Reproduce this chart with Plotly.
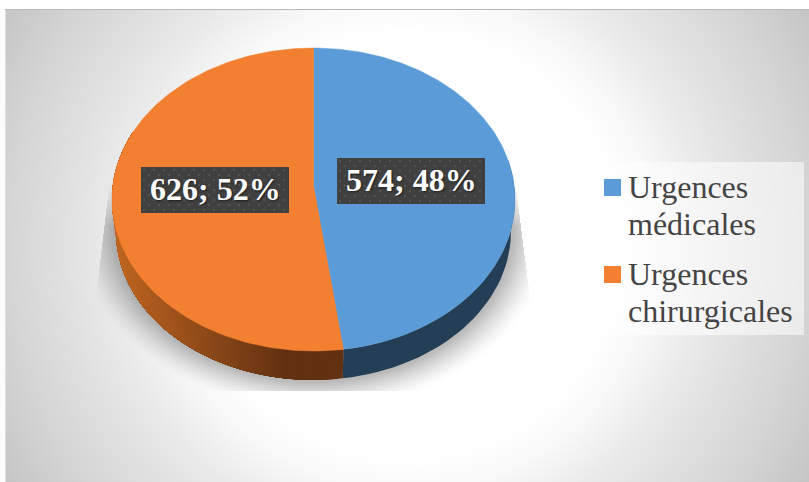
import numpy as np
import plotly.graph_objects as go

# Chart data
categories = ["Urgences médicales", "Urgences chirurgicales"]
counts = [574, 626]
top_colors = ["#5B9BD7", "#F38031"]

W, H = 809, 482

# Projected disc: circle (u, v) -> screen, with a mild perspective term
CX, HUB_Y = 313.5, 186.0
TOP = dict(b=200.7, a=150.3, y0=HUB_Y)
BOTTOM = dict(b=196.7, a=147.3, y0=218.3)
K = -0.0891


def rim(theta_deg, disc):
    t = np.radians(theta_deg)
    u, v = np.sin(t), -np.cos(t)
    d = 1 + K * v
    return CX + disc["b"] * u / d, disc["y0"] + disc["a"] * v / d


def mix(c0, c1, f):
    return "rgb(%d,%d,%d)" % tuple(round(a + (b - a) * f) for a, b in zip(c0, c1))


# Page background: white frame, radial grey gradient, soft shadow, legend panel
yy, xx = np.mgrid[0:H, 0:W] + 0.5
dist = np.hypot(xx - 407, yy - 245)
bg = np.interp(dist, [0, 215, 247, 300, 405, 466], [255, 255, 249, 234, 212, 198])

ell = np.hypot((xx - CX) / 200.0, (yy - 229.0) / 153.0)
out_px = (ell - 1) * 165
shade = np.clip(1 - out_px / 30, 0, 1) ** 1.4 * 0.27
shade *= np.clip((yy - 182) / 45, 0, 1)
left_edge = 110 + (np.clip(yy, 180, 300) - 180) * (-12 / 100)
right_edge = 515 + (np.clip(yy, 180, 300) - 180) * (14 / 110)
shade[(xx < left_edge) | (xx > right_edge) | (yy > 391)] = 0
bg = bg * (1 - shade)

panel = (xx >= 590) & (xx < 804) & (yy >= 162) & (yy < 335)
bg[panel] += (255 - bg[panel]) * 0.55

bg[:, 5:6] = 222
bg[9:10, 5:] = 186
bg[:, :5] = 252
bg[:9, :] = 255

fig = go.Figure()
fig.add_trace(go.Heatmap(
    z=bg.astype(np.uint8), x=np.arange(W) + 0.5, y=np.arange(H) + 0.5,
    colorscale=[[0, "#000000"], [1, "#ffffff"]], zmin=0, zmax=255,
    showscale=False, hoverinfo="skip",
))

# Slice boundaries, clockwise from twelve o'clock
total = sum(counts)
split = counts[0] / total * 360


def add_wall_strip(t0, t1, color):
    ts = np.linspace(t0, t1, 40)
    xa, ya = rim(ts, TOP)
    xb, yb = rim(ts[::-1], BOTTOM)
    fig.add_trace(go.Scatter(
        x=np.r_[xa, xb], y=np.r_[ya, yb], mode="lines", fill="toself",
        fillcolor=color, line=dict(width=0),
        hoverinfo="skip", showlegend=False,
    ))


# Side wall of the disc; each strip runs on under the next to hide the joins
add_wall_strip(80, split, "#233E55")
edges = np.linspace(split, 292, 91)
for t0 in edges[:-1]:
    xm, _ = rim(t0 + 0.7, BOTTOM)
    f = np.clip((xm - 120) / (285 - 120), 0, 1)
    add_wall_strip(t0, 292, mix((190, 100, 32), (98, 49, 17), f))

# Top face slices
start = 0.0
for value, color in zip(counts, top_colors):
    sweep = value / total * 360
    ts = np.linspace(start, start + sweep, 181)
    x, y = rim(ts, TOP)
    fig.add_trace(go.Scatter(
        x=np.r_[CX, x, CX], y=np.r_[HUB_Y, y, HUB_Y], mode="lines",
        fill="toself", fillcolor=color, line=dict(color=color, width=0.5),
        hoverinfo="skip", showlegend=False,
    ))
    start += sweep

# Value labels on dark dotted plates with a drop shadow
plates = [(337, 158, 485, 204), (141, 167, 289, 213)]
alpha = np.zeros((H, W))
for x0, y0, x1, y1 in plates:
    gx = np.clip((xx - (x0 + 1)) / 6, 0, 1) * np.clip(((x1 + 4) - xx) / 6, 0, 1)
    gy = np.clip((yy - (y0 + 1)) / 6, 0, 1) * np.clip(((y1 + 5) - yy) / 6, 0, 1)
    alpha = np.maximum(alpha, gx * gy * 0.5)
fig.add_trace(go.Heatmap(
    z=(alpha * 255).astype(np.uint8), x=np.arange(W) + 0.5, y=np.arange(H) + 0.5,
    colorscale=[[0, "rgba(0,0,0,0)"], [1, "rgba(0,0,0,1)"]], zmin=0, zmax=255,
    showscale=False, hoverinfo="skip",
))

for (x0, y0, x1, y1), value in zip(plates, counts):
    fig.add_trace(go.Scatter(
        x=[x0, x1, x1, x0, x0], y=[y0, y0, y1, y1, y0], mode="lines",
        fill="toself", fillcolor="#404040", line=dict(width=0),
        hoverinfo="skip", showlegend=False,
    ))
    gx, gy = [], []
    for row, py in enumerate(np.arange(y0 + 3, y1, 5)):
        for px in np.arange(x0 + 3 + (row % 2) * 5, x1, 10):
            gx.append(px)
            gy.append(py)
    fig.add_trace(go.Scatter(
        x=gx, y=gy, mode="markers",
        marker=dict(size=2.5, color="#525252", line=dict(width=0)),
        hoverinfo="skip", showlegend=False,
    ))
    fig.add_annotation(
        x=(x0 + x1) / 2, y=(y0 + y1) / 2 - 1, showarrow=False,
        text=f"{value}; {round(value / total * 100)}%",
        font=dict(family="Liberation Serif", size=32, color="#ffffff",
                  weight="bold", shadow="1px 1px 2px rgba(0,0,0,0.55)"),
    )

# Legend keys and wrapped legend text
key_y = [187.5, 274.5]
fig.add_trace(go.Scatter(
    x=[612.5, 612.5], y=key_y, mode="markers",
    marker=dict(symbol="square", size=17, color=top_colors, line=dict(width=0)),
    hoverinfo="skip", showlegend=False,
))
for name, ky in zip(categories, key_y):
    for i, word in enumerate(name.split(" ")):
        fig.add_annotation(
            x=625.5, y=ky - 0.5 + i * 37, xanchor="left", showarrow=False,
            text=word,
            font=dict(family="Liberation Serif", size=32, color="#444444"),
        )

fig.update_layout(
    width=W, height=H, margin=dict(l=0, r=0, t=0, b=0),
    paper_bgcolor="#ffffff", plot_bgcolor="#ffffff", showlegend=False,
    xaxis=dict(range=[0, W], visible=False, fixedrange=True),
    yaxis=dict(range=[H, 0], visible=False, fixedrange=True),
)
fig.write_html("out.html", config={"displayModeBar": False})
